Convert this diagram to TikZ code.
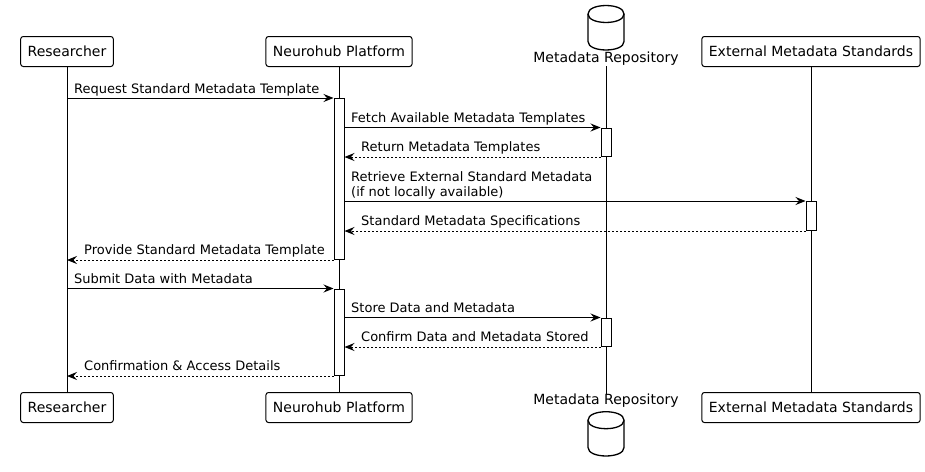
\documentclass[tikz,border=0pt]{standalone}
\usepackage{fontspec}
\setmainfont{DejaVu Sans}
\usetikzlibrary{arrows.meta}
\begin{document}
\begin{tikzpicture}[x=1pt,y=-1pt,
 part/.style={draw=black, line width=1pt, rounded corners=2.5pt, fill=white, minimum height=30pt, inner xsep=7pt, inner ysep=0pt, font=\fontsize{14}{16}\selectfont},
 dblabel/.style={inner sep=0.5pt, font=\fontsize{14}{16}\selectfont},
 life/.style={line width=1pt},
 act/.style={draw, line width=1pt, fill=white, minimum width=10pt, inner sep=0pt, anchor=north},
 msg/.style={line width=1pt, -{Stealth[length=10pt,width=8pt,inset=3.5pt]}},
 ret/.style={msg, dash pattern=on 2pt off 2pt},
 lbl/.style={inner sep=0pt, anchor=base west, font=\fontsize{13}{15}\selectfont},
 db/.style={line width=1.3pt, fill=white}
]
\useasboundingbox[fill=white] (0,0) rectangle (925,471);

% participants top
\node[part] (rt) at (67,51.5) {Researcher};
\node[part] (nt) at (339,51.5) {Neurohub Platform};
\node[part] (et) at (811,51.5) {External Metadata Standards};
\node[dblabel] (mt) at (606,59) {Metadata Repository};
% participants bottom
\node[part] (rb) at (67,407.5) {Researcher};
\node[part] (nb) at (339,407.5) {Neurohub Platform};
\node[part] (eb) at (811,407.5) {External Metadata Standards};
\node[dblabel] (mb) at (606,401) {Metadata Repository};

% database cylinders
\draw[db] (588,14) .. controls (588,2.7) and (624,2.7) .. (624,14) -- (624,41.5)
  .. controls (624,52.8) and (588,52.8) .. (588,41.5) -- cycle;
\draw[db] (588,14) .. controls (588,25.3) and (624,25.3) .. (624,14);
\draw[db] (588,420.2) .. controls (588,408.9) and (624,408.9) .. (624,420.2) -- (624,447.5)
  .. controls (624,458.8) and (588,458.8) .. (588,447.5) -- cycle;
\draw[db] (588,420.2) .. controls (588,431.5) and (624,431.5) .. (624,420.2);

% lifelines
\draw[life] (rt.south) -- (rb.north);
\draw[life] (nt.south) -- (nb.north);
\draw[life] (mt.south) -- (mb.north);
\draw[life] (et.south) -- (eb.north);

% activations
\node[act, minimum height=161pt] (aN1) at (339,98) {};
\node[act, minimum height=28.5pt] (aM1) at (606,127.5) {};
\node[act, minimum height=29pt] (aE1) at (811,201) {};
\node[act, minimum height=86.5pt] (aN2) at (339,288.5) {};
\node[act, minimum height=28.5pt] (aM2) at (606,317.5) {};

% messages
\draw[msg] (rt |- aN1.north) -- (aN1.north west);
\node[lbl] (l1) at (74,93) {Request Standard Metadata Template};

\draw[msg] (aN1.east |- aM1.north) -- (aM1.north west);
\node[lbl] (l2) at (351,122.5) {Fetch Available Metadata Templates};

\draw[ret] (aM1.south west) -- (aN1.east |- aM1.south);
\node[lbl] (l3) at (361,151) {Return Metadata Templates};

\draw[msg] (aN1.east |- aE1.north) -- (aE1.north west);
\node[lbl, anchor=south west, align=left] (l4) at (351,199) {Retrieve External Standard Metadata\\(if not locally available)};

\draw[ret] (aE1.south west) -- (aN1.east |- aE1.south);
\node[lbl] (l5) at (361,225) {Standard Metadata Specifications};

\draw[ret] (aN1.south west) -- (rt |- aN1.south);
\node[lbl] (l6) at (84,254) {Provide Standard Metadata Template};

\draw[msg] (rt |- aN2.north) -- (aN2.north west);
\node[lbl] (l7) at (74,283.5) {Submit Data with Metadata};

\draw[msg] (aN2.east |- aM2.north) -- (aM2.north west);
\node[lbl] (l8) at (351,312.5) {Store Data and Metadata};

\draw[ret] (aM2.south west) -- (aN2.east |- aM2.south);
\node[lbl] (l9) at (361,341) {Confirm Data and Metadata Stored};

\draw[ret] (aN2.south west) -- (rt |- aN2.south);
\node[lbl] (l10) at (84,370) {Confirmation \& Access Details};
\end{tikzpicture}
\end{document}
